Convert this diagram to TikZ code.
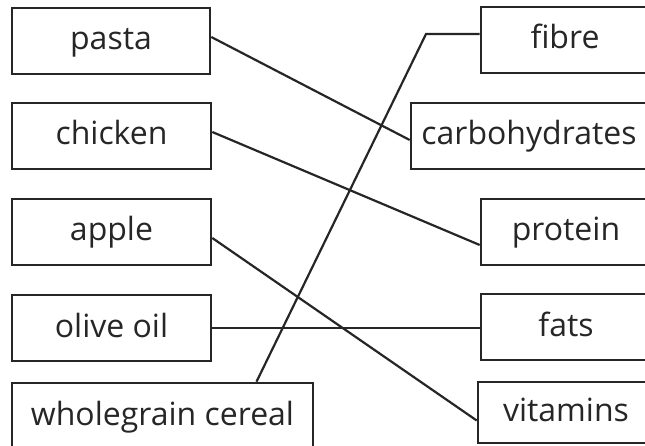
\documentclass[tikz,border=0pt]{standalone}
\usepackage{fontspec}
\setmainfont{Open Sans}
\usetikzlibrary{positioning}

\begin{document}
\begin{tikzpicture}[x=1pt, y=-1pt,
    foodbox/.style={draw=black!85, line width=2.6pt, rectangle, inner sep=0pt,
        minimum height=66pt, text height=22pt, text depth=4pt,
        font=\fontsize{32}{37}\selectfont, text=black!85},
    linkline/.style={draw=black!85, line width=2.2pt}]
    \useasboundingbox (0,0) rectangle (645,446);
    \clip (0,0) rectangle (645,446);

    % Left column (foods)
    \node[foodbox, minimum width=198pt] (pasta)   at (111,41)    {pasta};
    \node[foodbox, minimum width=199pt] (chicken) at (111.5,136) {chicken};
    \node[foodbox, minimum width=199pt] (apple)   at (111.5,232) {apple};
    \node[foodbox, minimum width=199pt] (olive)   at (111.5,328) {olive oil};
    \node[foodbox, minimum width=301pt] (cereal)  at (162.5,416) {wholegrain cereal};

    % Right column (nutrients)
    \node[foodbox, minimum width=168pt] (fibre)   at (565,40)    {fibre};
    \node[foodbox, minimum width=236pt] (carbs)   at (529,136)   {carbohydrates};
    \node[foodbox, minimum width=170pt] (protein) at (566,232)   {protein};
    \node[foodbox, minimum width=170pt] (fats)    at (566,327)   {fats};
    \node[foodbox, minimum width=176pt, minimum height=61pt] (vitamins) at (566,412.5) {vitamins};

    % Matching lines
    \coordinate (bend) at (426,34);
    \draw[linkline] ([yshift=4pt]pasta.east) -- ([yshift=-4pt]carbs.west);
    \draw[linkline] ([yshift=4pt]chicken.east) -- ([yshift=-13pt]protein.west);
    \draw[linkline] ([yshift=-6pt]apple.east) -- ([yshift=-8pt]vitamins.west);
    \draw[linkline] (olive.east) -- (olive.east -| fats.west);
    \draw[linkline] ([xshift=94pt]cereal.north) -- (bend) -- (bend -| fibre.west);
\end{tikzpicture}
\end{document}
